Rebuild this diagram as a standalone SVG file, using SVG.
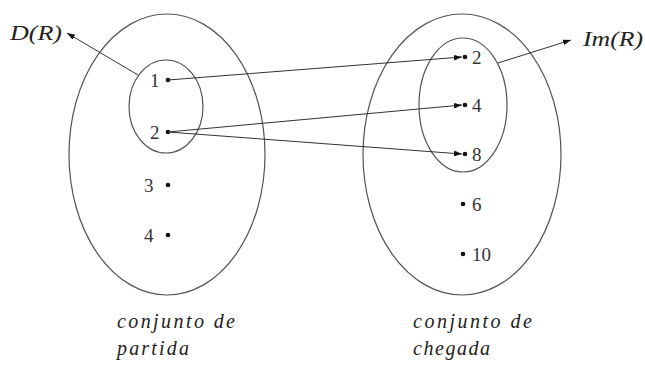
<svg xmlns="http://www.w3.org/2000/svg" width="645" height="365" viewBox="0 0 645 365">
<defs>
<style>
.ell{fill:none;stroke:#555;stroke-width:1.2}
.ln{fill:none;stroke:#333;stroke-width:1}
.dot{fill:#111}
.num{font-family:'Liberation Serif','DejaVu Serif',serif;font-size:19px;fill:#333}
.lab{font-family:'Liberation Serif','DejaVu Serif',serif;font-style:italic;font-size:20px;fill:#222}
</style>
<marker id="ah" viewBox="0 0 10 10" refX="10" refY="5" markerWidth="8" markerHeight="8" markerUnits="userSpaceOnUse" orient="auto">
<path d="M0,1.5 L10,5 L0,8.5 Z" fill="#111"/>
</marker>
</defs>
<rect width="645" height="365" fill="#fff"/>
<g id="partida">
<ellipse class="ell" cx="167" cy="154.5" rx="98" ry="140.5"/>
<text class="lab" x="117" y="328" textLength="118" lengthAdjust="spacing">conjunto de</text>
<text class="lab" x="117" y="355" textLength="72" lengthAdjust="spacing">partida</text>
</g>
<g id="dominio">
<ellipse class="ell" cx="166" cy="106.5" rx="37" ry="46.5"/>
</g>
<g id="chegada">
<ellipse class="ell" cx="462" cy="154.5" rx="99" ry="140.5"/>
<text class="lab" x="413" y="328" textLength="119" lengthAdjust="spacing">conjunto de</text>
<text class="lab" x="413" y="355" textLength="77" lengthAdjust="spacing">chegada</text>
</g>
<g id="imagem">
<ellipse class="ell" cx="463" cy="105" rx="44" ry="67"/>
</g>
<g id="p1"><circle class="dot" cx="168" cy="80" r="2.3"/><text class="num" x="150" y="87">1</text></g>
<g id="p2"><circle class="dot" cx="168" cy="132" r="2.3"/><text class="num" x="150" y="139">2</text></g>
<g id="p3"><circle class="dot" cx="168" cy="185" r="2.3"/><text class="num" x="144" y="192">3</text></g>
<g id="p4"><circle class="dot" cx="168" cy="235" r="2.3"/><text class="num" x="144" y="242">4</text></g>
<g id="q2"><circle class="dot" cx="465" cy="57" r="2.3"/><text class="num" x="472" y="64">2</text></g>
<g id="q4"><circle class="dot" cx="465" cy="105" r="2.3"/><text class="num" x="472" y="112">4</text></g>
<g id="q8"><circle class="dot" cx="465" cy="154" r="2.3"/><text class="num" x="472" y="161">8</text></g>
<g id="q6"><circle class="dot" cx="463" cy="204" r="2.3"/><text class="num" x="472" y="211">6</text></g>
<g id="q10"><circle class="dot" cx="463" cy="254" r="2.3"/><text class="num" x="472" y="261">10</text></g>
<g id="DR"><text class="lab" x="10" y="40" textLength="52" lengthAdjust="spacingAndGlyphs">D(R)</text></g>
<g id="ImR"><text class="lab" x="583" y="46" textLength="60" lengthAdjust="spacingAndGlyphs">Im(R)</text></g>
<g id="connectors">
<line class="ln" x1="168" y1="80" x2="462" y2="57" marker-end="url(#ah)"/>
<line class="ln" x1="168" y1="132" x2="462" y2="105" marker-end="url(#ah)"/>
<line class="ln" x1="168" y1="132" x2="462" y2="154" marker-end="url(#ah)"/>
<line class="ln" x1="138" y1="75" x2="67" y2="33" marker-end="url(#ah)"/>
<line class="ln" x1="498" y1="63" x2="571" y2="40" marker-end="url(#ah)"/>
</g>
</svg>
